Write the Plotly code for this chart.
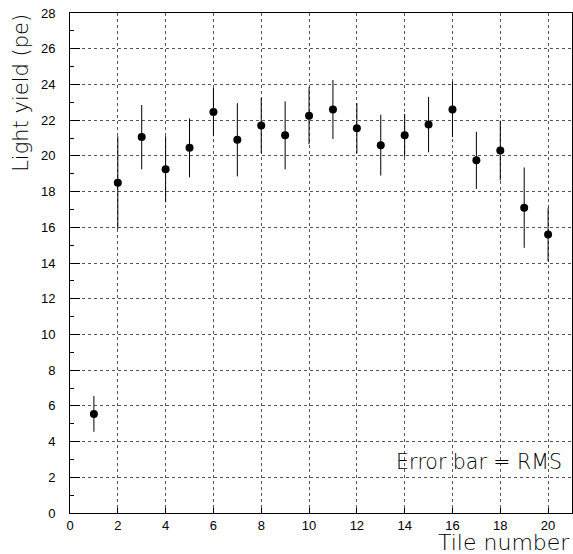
import plotly.graph_objects as go

tiles = list(range(1, 21))
light_yield = [5.55, 18.5, 21.05, 19.25, 20.45, 22.45, 20.9, 21.7, 21.15, 22.25,
               22.6, 21.55, 20.6, 21.15, 21.75, 22.6, 19.75, 20.3, 17.1, 15.6]
rms = [1.0, 2.6, 1.8, 1.85, 1.65, 1.35, 2.05, 1.55, 1.9, 1.6,
       1.65, 1.4, 1.7, 1.2, 1.55, 1.55, 1.6, 1.67, 2.25, 1.5]

x_ticks = list(range(0, 21, 2))
y_ticks = list(range(0, 29, 2))

fig = go.Figure()
fig.add_trace(go.Scatter(
    x=tiles, y=light_yield, mode="markers",
    marker=dict(color="black", size=8),
    error_y=dict(type="data", array=rms, visible=True, color="black",
                 thickness=1, width=0),
    showlegend=False,
))

axis_common = dict(
    showline=True, linecolor="black", linewidth=1, mirror=True,
    showgrid=True, gridcolor="#555555", griddash="dot", gridwidth=1,
    ticks="inside", tickcolor="black", zeroline=False,
    tickfont=dict(family="Liberation Sans, Arial", size=13, color="black"),
)

fig.update_xaxes(range=[0, 21], tickvals=x_ticks, ticklen=5,
                 ticklabelstandoff=0, **axis_common)
fig.update_yaxes(range=[0, 28], tickvals=y_ticks, ticklen=10,
                 ticklabelstandoff=11,
                 minor=dict(dtick=1, ticks="inside", ticklen=4, tickcolor="black", showgrid=False),
                 **axis_common)

fig.add_annotation(text="Tile number", xref="paper", yref="paper",
                   x=1.0, y=-0.029, xanchor="right", yanchor="top", showarrow=False,
                   font=dict(family="DejaVu Sans, Verdana", size=22, color="black", weight=200))
fig.add_annotation(text="Light yield (pe)", xref="paper", yref="paper",
                   x=-0.07, y=1.002, xanchor="right", yanchor="top", textangle=-90,
                   showarrow=False,
                   font=dict(family="DejaVu Sans, Verdana", size=21, color="black", weight=200))
fig.add_annotation(text="Error bar = RMS", xref="x", yref="y",
                   x=20.65, y=2.85, xanchor="right", yanchor="middle", showarrow=False,
                   font=dict(family="DejaVu Sans, Verdana", size=20.5, color="black", weight=200))

fig.update_layout(
    width=573, height=554,
    margin=dict(l=70, r=1, t=13, b=41),
    paper_bgcolor="white", plot_bgcolor="white",
)

fig.write_html("out.html", config={"displayModeBar": False},
               post_script="document.body.style.margin='0';")
